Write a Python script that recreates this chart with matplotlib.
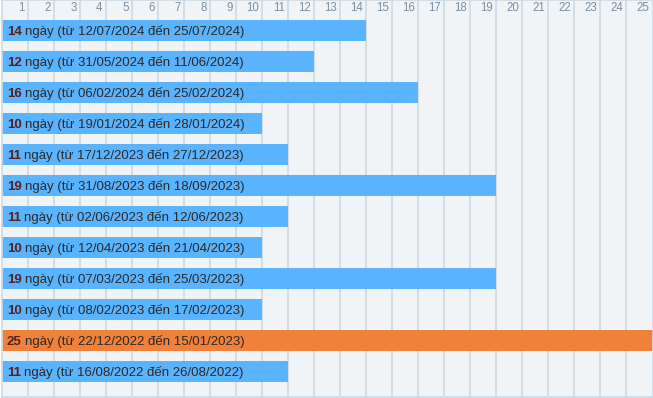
import matplotlib
matplotlib.use("Agg")
import matplotlib.pyplot as plt

days = [14, 12, 16, 10, 11, 19, 11, 10, 19, 10, 25, 11]
starts = ["12/07/2024", "31/05/2024", "06/02/2024", "19/01/2024", "17/12/2023",
          "31/08/2023", "02/06/2023", "12/04/2023", "07/03/2023", "08/02/2023",
          "22/12/2022", "16/08/2022"]
ends = ["25/07/2024", "11/06/2024", "25/02/2024", "28/01/2024", "27/12/2023",
        "18/09/2023", "12/06/2023", "21/04/2023", "25/03/2023", "17/02/2023",
        "15/01/2023", "26/08/2022"]
ticks = list(range(1, 26))

W, H = 653, 398
fig = plt.figure(figsize=(W / 100, H / 100), dpi=100)
fig.patch.set_facecolor("white")
ax = fig.add_axes([1.5 / W, 1 - 397 / H, 651 / W, 397 / H])
ax.set_facecolor("#f0f4f7")

blue = "#5ab3fd"
orange = "#f0803a"
maxd = max(days)
colors = [orange if d == maxd else blue for d in days]

n = len(days)
ax.barh(range(n), days, height=21 / 31, left=0, color=colors, zorder=2)
ax.set_xlim(0, 25)
ax.set_ylim(11 + (397 - 371.5) / 31, -30.5 / 31)

for x in range(1, 25):
    ax.axvline(x, color="#cdd9e3", lw=1.2, zorder=1)
for s in ax.spines.values():
    s.set_color("#cdd9e3")
    s.set_linewidth(1.2)
ax.set_xticks([])
ax.set_yticks([])

font = "Liberation Sans"
fs = 9.5
fig.canvas.draw()
renderer = fig.canvas.get_renderer()
for i, d in enumerate(days):
    t1 = ax.text(0.2, i + 0.13, str(d), fontsize=fs, fontweight="bold", color="#5a1f1f",
                 family=font, va="baseline", ha="left", zorder=3)
    bb = t1.get_window_extent(renderer)
    x2 = ax.transData.inverted().transform((bb.x1 + 3.5, 0))[0]
    ax.text(x2, i + 0.13, f"ngày (từ {starts[i]} đến {ends[i]})",
            fontsize=fs, color="#2a2a2a", family=font, va="baseline", ha="left",
            zorder=3)

for k in ticks:
    ax.text(k - 0.12, 1 - 8 / 397, str(k), transform=ax.get_xaxis_transform(),
            fontsize=8.3, color="#7a8fa0", family=font, ha="right", va="center")

fig.savefig("out.png", dpi=100)
